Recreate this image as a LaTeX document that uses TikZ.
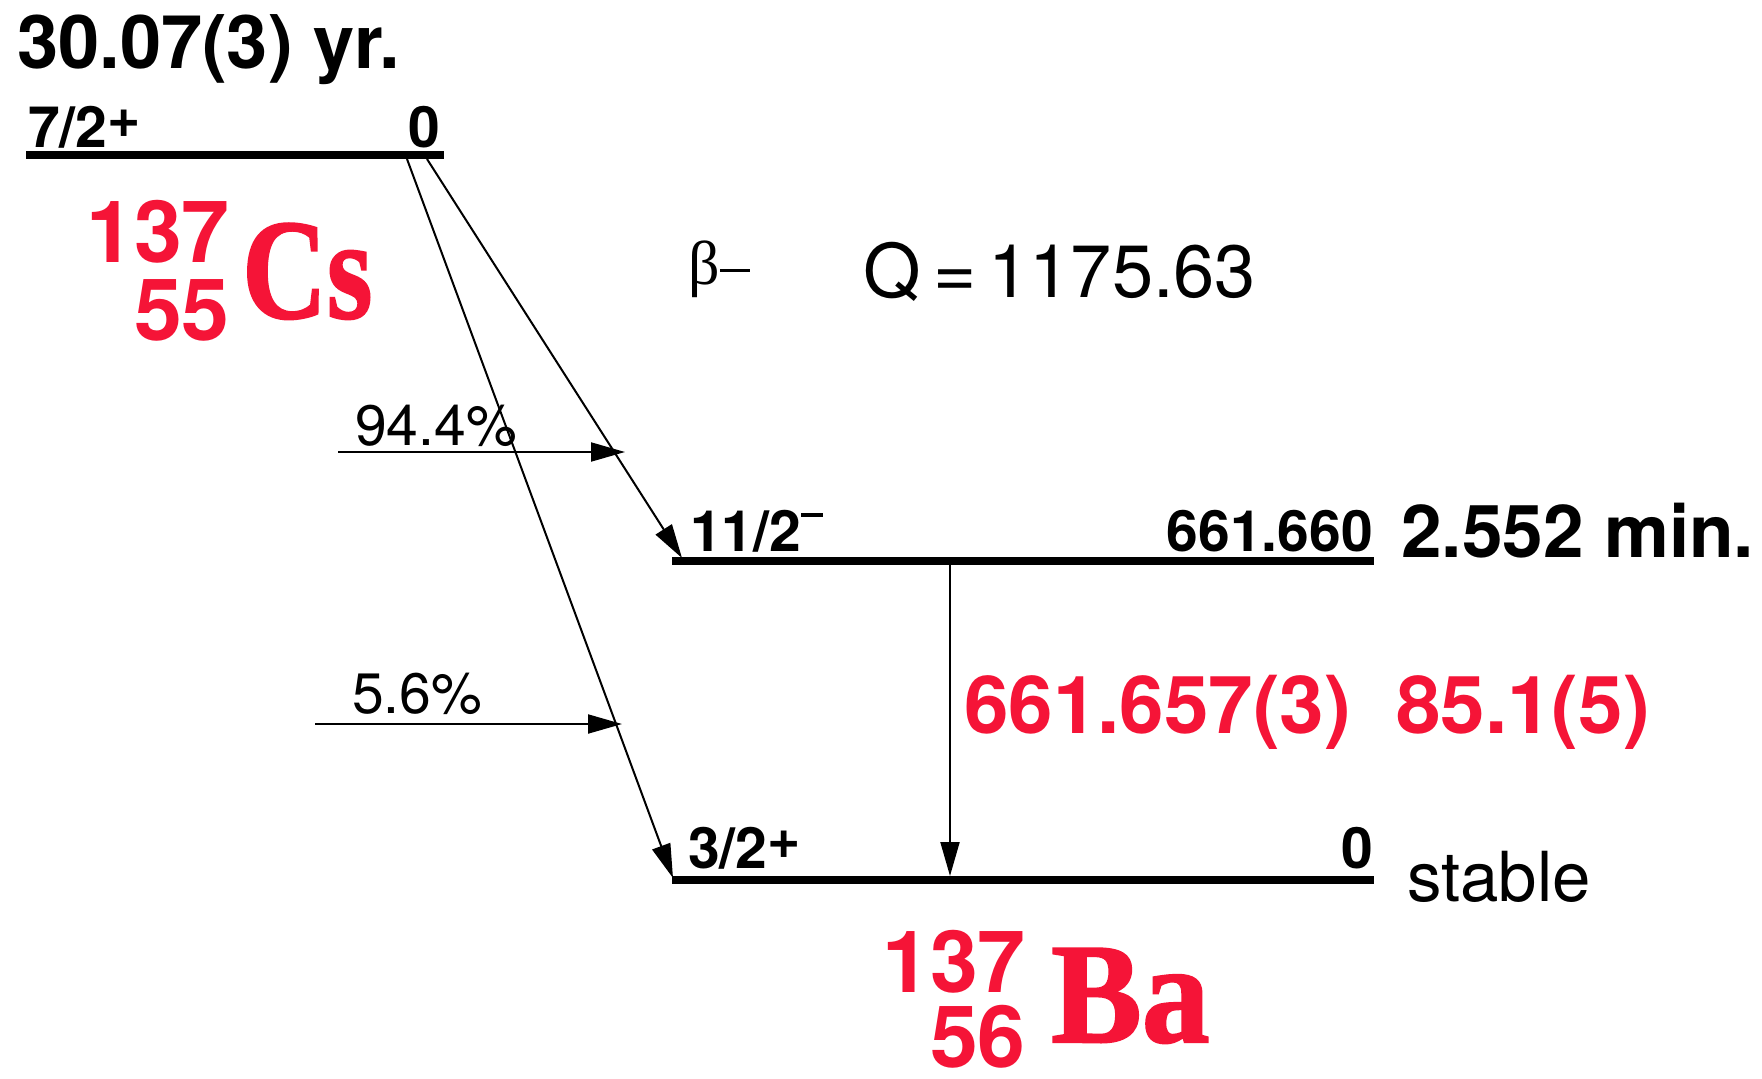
\documentclass[tikz,border=0pt]{standalone}
\usepackage{fontspec}
\setmainfont{TeX Gyre Heros}
\newfontfamily\serifface{Liberation Serif}[BoldFont={* Bold},BoldFeatures={FakeBold=1.5}]
\usetikzlibrary{arrows.meta}
\definecolor{nucred}{RGB}{245,20,55}
\tikzset{
  lvl/.style={line width=8pt},
  tipline/.style={line width=2pt,-{Triangle[length=34pt,width=19pt]}},
  lbl/.style={inner sep=0pt,font=\bfseries\fontsize{57}{60}\selectfont},
  half/.style={inner sep=0pt,font=\bfseries\fontsize{73}{80}\selectfont},
  plain/.style={inner sep=0pt,font=\fontsize{57}{60}\selectfont},
  iso/.style={inner sep=0pt,text=nucred,text height=62pt,text depth=0pt,font=\bfseries\fontsize{86}{90}\selectfont},
  elem/.style={inner sep=0pt,text=nucred,font=\serifface\bfseries\fontsize{143}{150}\selectfont},
  gam/.style={inner sep=0pt,text=nucred,font=\bfseries\fontsize{80}{84}\selectfont}
}
\newcommand{\parplus}{\raisebox{0.17em}{+}}
\newcommand{\parminus}{\rule[0.6em]{0.38em}{0.07em}}
\begin{document}
\begin{tikzpicture}[x=1pt,y=-1pt]
\useasboundingbox[fill=white] (0,0) rectangle (1762,1079);
% Cs-137 ground level
\node[half,anchor=base west,font=\bfseries\fontsize{74}{80}\selectfont] (hl1) at (17,68) {30.07(3) yr.};
\coordinate (l1a) at (26,155);
\coordinate (l1b) at (444,155);
\draw[lvl] (l1a) -- (l1b);
\node[lbl,anchor=base west] (sp1) at (28,147) {7/2\parplus};
\node[lbl,anchor=base east] (e1) at (440,147) {0};
\node[iso,anchor=base east] (m1) at (230,262) {137};
\node[iso,anchor=base east] (z1) at (230,340) {55};
\node[elem,anchor=base west] (c1) at (242,318) {\scalebox{0.82}[1]{Cs}};
% decay info
\node[inner sep=0pt,anchor=base west,font=\serifface\fontsize{62}{66}\selectfont] (beta) at (688,284) {β\rule[0.2em]{30pt}{3pt}};
\node[inner sep=0pt,anchor=base west,font=\fontsize{74}{80}\selectfont] (q) at (863,297) {Q\,=\,1175.63};
% branches
\node[plain,anchor=base west] (p1) at (355,445) {94.4\%};
\coordinate (a1s) at (338,452);
\coordinate (a1e) at (625,452);
\draw[tipline] (a1s) -- (a1e);
\node[plain,anchor=base west] (p2) at (352,713) {5.6\%};
\coordinate (a2s) at (315,724);
\coordinate (a2e) at (622,724);
\draw[tipline] (a2s) -- (a2e);
\coordinate (s1) at (407,159);
\coordinate (s2) at (427,159);
\coordinate (t2) at (682,558);
\coordinate (t3) at (673,878);
\draw[tipline] (s1) -- (t3);
\draw[tipline] (s2) -- (t2);
% Ba-137 excited level
\coordinate (l2a) at (672,561);
\coordinate (l2b) at (1374,561);
\draw[lvl] (l2a) -- (l2b);
\node[lbl,anchor=base west] (sp2) at (690,551) {11/2\parminus};
\node[lbl,anchor=base east] (e2) at (1373,551) {661.660};
\node[half,anchor=base west] (hl2) at (1401,557) {2.552 min.};
% gamma
\coordinate (g1) at (950,565);
\coordinate (g2) at (950,876);
\draw[tipline] (g1) -- (g2);
\node[gam,anchor=base west] (ge) at (964,733) {661.657(3)};
\node[gam,anchor=base west] (gi) at (1396,733) {85.1(5)};
% Ba-137 ground level
\coordinate (l3a) at (672,880);
\coordinate (l3b) at (1374,880);
\draw[lvl] (l3a) -- (l3b);
\node[lbl,anchor=base west] (sp3) at (688,868) {3/2\parplus};
\node[lbl,anchor=base east] (e3) at (1373,868) {0};
\node[inner sep=0pt,anchor=base west,font=\fontsize{69}{72}\selectfont] (st) at (1407,901) {stable};
\node[iso,anchor=base east] (m2) at (1026,992) {137};
\node[iso,anchor=base east] (z2) at (1026,1067) {56};
\node[elem,anchor=base west] (b2) at (1051,1042) {\scalebox{0.95}[1]{Ba}};
\end{tikzpicture}
\end{document}
